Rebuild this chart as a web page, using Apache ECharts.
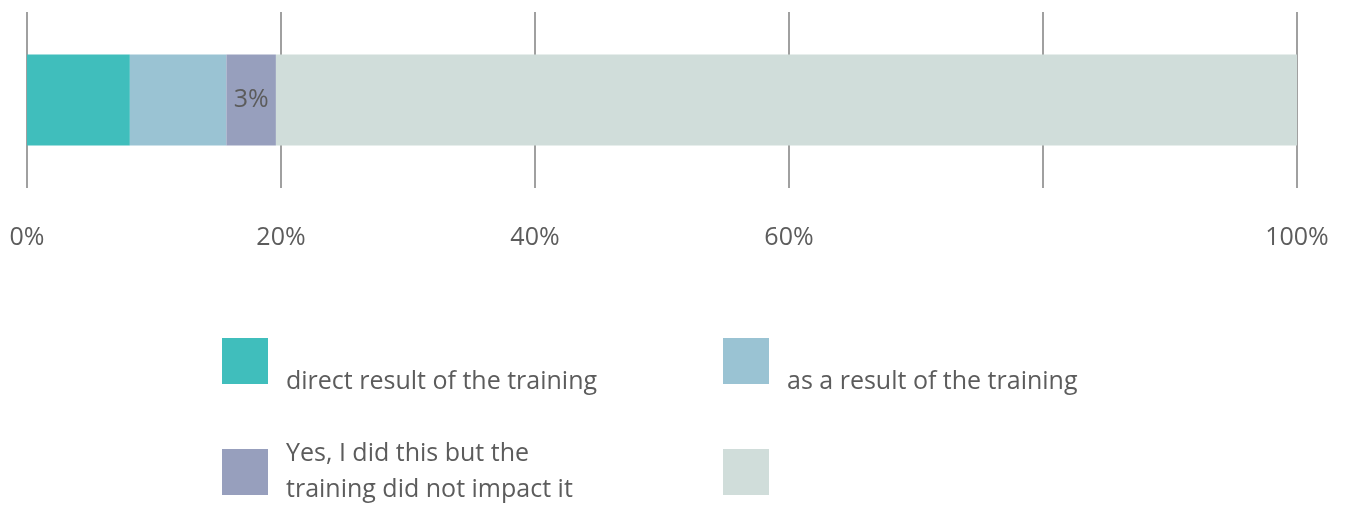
<!DOCTYPE html>
<html style="height: 100%">
<head>
    <meta charset="utf-8">
    <script src="https://cdn.jsdelivr.net/npm/echarts@6.0.0/dist/echarts.min.js"></script>
</head>
<body style="height: 100%; margin: 0; background: #fff">
    <div id="container" style="width: 1346px; height: 508px"></div>
    <script type="text/javascript">
        var myChart = echarts.init(document.getElementById('container'));

        // data
        var categories = ['Response'];
        var seriesNames = ['direct result of the training', 'as a result of the training',
            'Yes, I did this but the\ntraining did not impact it', ' '];
        var seriesValues = [8.1, 7.6, 3.9, 80.4];
        var segmentLabels = ['', '', '3%', ''];
        var tickLabels = ['0%', '20%', '40%', '60%', '', '100%'];
        var colors = ['#40bebc', '#9ac3d3', '#979fbd', '#d0ddda'];

        var textColor = '#5c5c5c';
        var fontFamily = '"Open Sans", sans-serif';
        var fontSize = 25;

        var series = seriesNames.map(function (name, i) {
            return {
                name: name, type: 'bar', stack: 'total',
                barWidth: 91,
                itemStyle: { color: colors[i] },
                label: {
                    show: segmentLabels[i] !== '',
                    position: 'inside',
                    color: textColor, fontSize: fontSize, fontFamily: fontFamily,
                    formatter: function () { return segmentLabels[i]; }
                },
                data: [seriesValues[i]]
            };
        });

        // one legend block per item, laid out as 2x2
        // single-line names get an empty first line so the text sits below the square's centre
        var legendPos = [[222, 319], [723, 319], [222, 436], [723, 430]];
        var legends = seriesNames.map(function (name, i) {
            var multi = name.indexOf('\n') >= 0;
            return {
                data: [name],
                left: legendPos[i][0], top: legendPos[i][1],
                padding: 0,
                itemWidth: 46, itemHeight: 46,
                icon: 'rect',
                selectedMode: false,
                formatter: function (n) { return multi ? n : '\n' + n; },
                textStyle: {
                    color: textColor, fontSize: fontSize, fontFamily: fontFamily,
                    lineHeight: multi ? 36 : 42,
                    padding: [0, 0, 0, 13]
                }
            };
        });

        var option = {
            animation: false,
            legend: legends,
            grid: { left: 27, right: 49, top: 12, bottom: 320, containLabel: false },
            xAxis: {
                type: 'value',
                min: 0, max: 100, interval: 20,
                axisLine: { show: false },
                axisTick: { show: false },
                splitLine: { show: true, lineStyle: { color: '#808080', width: 1.5 } },
                axisLabel: {
                    color: textColor, fontSize: fontSize, fontFamily: fontFamily, margin: 37,
                    formatter: function (v) { return tickLabels[Math.round(v / 20)]; }
                }
            },
            yAxis: {
                type: 'category',
                data: categories,
                show: false
            },
            series: series
        };

        myChart.setOption(option);
        window.addEventListener('resize', function () { myChart.resize(); });
    </script>
</body>
</html>
